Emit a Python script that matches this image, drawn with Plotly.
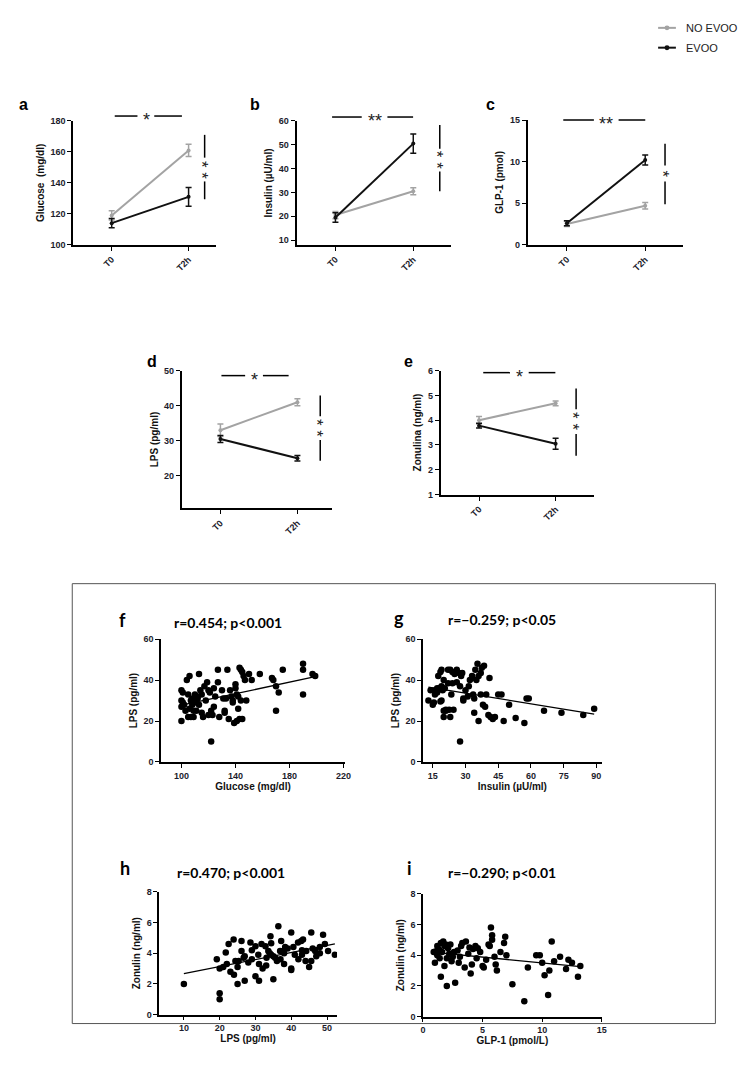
import plotly.graph_objects as go
import numpy as np

W, H = 747, 1080
def X(p): return p / W
def Y(p): return 1 - p / H

# ---------------- data ----------------
timepoints = ["T0", "T2h"]
glucose_no = [119, 161];   glucose_no_err = [3, 4]
glucose_evoo = [114, 131]; glucose_evoo_err = [3, 6]
insulin_no = [20.5, 30.5]; insulin_no_err = [1.5, 1.5]
insulin_evoo = [19.5, 50.5]; insulin_evoo_err = [2, 4]
glp1_no = [2.5, 4.7];      glp1_no_err = [0.3, 0.4]
glp1_evoo = [2.6, 10.2];   glp1_evoo_err = [0.3, 0.6]
lps_no = [33, 41];         lps_no_err = [1.8, 1.0]
lps_evoo = [30.5, 25];     lps_evoo_err = [1.0, 0.8]
zon_no = [4.0, 4.68];      zon_no_err = [0.15, 0.1]
zon_evoo = [3.78, 3.05];   zon_evoo_err = [0.1, 0.22]

f_glu = [100,100,100,100,101,101,102,103,104,105, 105,106,106,107,107,108,108,109,109,110,
         110,111,112,112,113,113,114,115,115,116, 117,118,119,120,120,121,122,122,123,124,
         124,125,127,127,128,130,131,132,132,133, 134,135,136,137,138,138,139,140,140,141,
         141,142,142,143,143,144,144,145,145,146, 147,148,150,152,158,167,168,170,170,172,
         175,190,190,190,197,199]
f_lps = [20,27,30,35,34,29,28,25,40,22, 33,42,26,30,22,28,31,25,22,33,
         29,25,32,31,28,43,35,24,33,22, 37,30,39,23,35,34,10,25,23,36,
         27,32,45,39,22,35,31,24,25,31, 45,21,35,32,30,29,19,38,36,33,
         20,26,32,46,21,45,30,44,21,42, 40,30,43,40,43,41,40,37,25,34,
         45,48,45,33,43,42]

g_ins = [13,15,16,17.5,18.5,19,18.5,19,19.5,20, 20.5,21,20,22,22,22.5,23,23.5,24,24.5,
         26,27,27.5,28,28.5,27.5,29,30,31.5,32, 33,33.5,34,34,34.5,35.5,36,36,37,37,
         37.5,38,38.5,39,39.5,40.5,41,41.5,42.5,43.5, 45,46.5,47.5,50,53,57,58,59,66,74,
         84,89, 16,17,18,20,21,23,25,14,15.5,17, 19,24,26,29,31,33,35]
g_lps = [30,28,33,42,44,45,29.5,37,35,40, 36,25.5,22,45,38.5,25.5,22,33,38.5,25.5,
         45,43.5,37,42,43.5,10,31,35,37,40, 42,33,31,24,45,48,42,20,43.5,33,
         46,28,47,27,33,23,41,22,21,22, 33,33,20,28,21.5,19,31,31,25,24,
         23,26, 35,34,36,25,25,45,43,35,29,36, 30,44,39,30,32,41,40]

h_lps = [19.2,21.7,22.5,23.9,24.4,25.3,26.1,26.1,26.7,28.6, 30,30.8,31.7,32.8,33.1,33.6,34.2,34.4,34.4,35.5,
         36.4,36.9,37.2,37.8,38.3,40,40.6,41.9,42.8,43.3, 44.2,45.6,45.6,46.7,48,48.9,49.4,50.3,
         10,20,20,20,21,23,25,27,28,30, 31,33,35,36,38,40,42,43,45,47,
         48,25,29,32,35,38,40,44,46,22, 24,27,29,31,34,37,39,41,43, 52.2]
h_zon = [3.6,4.05,4.6,4.9,3.5,3.5,4.8,4.15,3.7,4.7, 4.45,3.9,4.6,4.45,3.7,4.15,5.1,4.65,3.9,3.7,
         5.75,4.15,4.8,4.15,4.4,5.35,4.4,4.7,4.8,4.9, 4.15,5.35,3.5,4.15,4.4,5.2,4.6,4.15,
         2.0,1.0,1.4,3.0,3.1,2.8,2.0,2.2,3.4,2.5, 2.2,3.2,2.3,3.5,3.3,3.0,3.6,3.9,3.1,3.8,
         4.0,3.1,3.6,3.0,3.8,4.0,2.9,3.5,4.3,3.3, 2.6,3.8,4.2,3.3,4.0,3.6,4.3,3.9,4.2, 3.9]

i_glp = [1.1,1.5,1.7,1.9,2.1,2.3,3.3,3.6,4.4,4.6, 5.7,5.8,5.8,5.6,6.9,6.8,10.8,
         1.0,1.2,1.3,1.4,1.5,1.6,1.8,2.0,2.2, 2.4,2.5,2.7,2.9,3.0,3.2,3.5,3.8,4.0,4.2,
         4.5,4.8,5.0,5.3,5.5,6.0,6.2,6.5,7.0,7.5, 8.5,8.8,9.5,10.0,10.2,10.5,10.6,11.0,11.5,12.0,
         12.2,12.5,13.0,13.2,1.2,1.8,2.6,3.1,2.0,1.4, 0.9,3.9,4.1,5.1,6.1,9.8]
i_zon = [4.25,4.8,4.9,4.7,4.45,4.7,4.8,4.9,4.6,4.45, 5.8,5.3,5.0,4.6,5.2,4.8,4.9,
         3.5,4.0,4.4,3.8,2.6,4.2,3.3,2.0,4.1, 3.6,3.9,2.2,4.3,3.5,4.6,3.2,4.1,2.8,4.4,
         3.8,4.2,3.3,3.7,4.7,3.9,3.0,4.2,4.0,2.1, 1.0,3.2,4.0,3.5,2.7,1.4,3.0,3.6,3.9,3.1,
         3.7,3.5,2.6,3.3,4.6,4.6,4.2,3.9,3.8,4.3, 4.2,4.5,3.4,3.2,3.4,4.0]

corr_titles = ["r=0.454; p<0.001", "r=\u22120.259; p<0.05", "r=0.470; p<0.001", "r=\u22120.290; p<0.01"]

# ---------------- styling ----------------
GRAY = "#a3a3a3"
BLACK = "#111111"
TICKFONT = dict(family="Liberation Sans", size=9, color="#1c1c2c", weight="bold")
TITLEFONT = dict(family="Liberation Sans", size=10, color="#111111", weight="bold")

fig = go.Figure()
layout = {}
annotations = []
shapes = []

def axis_pair(k, xdom_px, ydom_px, xrange, yrange, lw):
    xd = [X(xdom_px[0]), X(xdom_px[1])]
    yd = [Y(ydom_px[1]), Y(ydom_px[0])]
    sfx = "" if k == 1 else str(k)
    base = dict(showline=True, linecolor="black", linewidth=lw, ticks="outside",
                ticklen=4, tickwidth=1.3, tickcolor="black", showgrid=False,
                zeroline=False, tickfont=TICKFONT, fixedrange=True)
    layout["xaxis" + sfx] = dict(base, domain=xd, range=xrange, anchor="y" + sfx)
    layout["yaxis" + sfx] = dict(base, domain=yd, range=yrange, anchor="x" + sfx)
    return sfx

top_panels = [
    ("a", "Glucose  (mg/dl)", glucose_no, glucose_no_err, glucose_evoo, glucose_evoo_err,
     (63, 207), (109, 234), [-0.5, 1.35], [100, 180], 20, (13, 92)),
    ("b", "Insulin (\u00b5U/ml)", insulin_no, insulin_no_err, insulin_evoo, insulin_evoo_err,
     (289, 445), (109, 234), [-0.5, 1.48], [8, 60], 10, (247, 92)),
    ("c", "GLP-1 (pmol)", glp1_no, glp1_no_err, glp1_evoo, glp1_evoo_err,
     (523, 680), (108, 234), [-0.5, 1.48], [0, 15], 5, (485, 92)),
    ("d", "LPS (pg/ml)", lps_no, lps_no_err, lps_evoo, lps_evoo_err,
     (173, 325), (361, 500), [-0.5, 1.45], [10.7, 50], 10, (143, 352)),
    ("e", "Zonulina (ng/ml)", zon_no, zon_no_err, zon_evoo, zon_evoo_err,
     (435, 590), (361, 486), [-0.5, 1.5], [1, 6], 1, (402, 352)),
]

for k, (letter, ytitle, no, no_e, ev, ev_e, xd, yd, xr, yr, dt, lpos) in enumerate(top_panels, start=1):
    sfx = axis_pair(k, xd, yd, xr, yr, 2)
    layout["xaxis" + sfx].update(tickvals=[0, 1], ticktext=timepoints, tickangle=-45)
    layout["yaxis" + sfx].update(dtick=dt, tick0=0,
                                 title=dict(text=ytitle, font=TITLEFONT, standoff=4))
    for vals, errs, col in ((no, no_e, GRAY), (ev, ev_e, BLACK)):
        fig.add_trace(go.Scatter(
            x=[0, 1], y=vals, mode="lines+markers", xaxis="x" + sfx, yaxis="y" + sfx,
            line=dict(color=col, width=2), marker=dict(color=col, size=4),
            error_y=dict(type="data", array=errs, color=col, thickness=1.5, width=3),
            showlegend=False))
    annotations.append(dict(text=letter, x=X(lpos[0]), y=Y(lpos[1]), xref="paper", yref="paper",
                            showarrow=False, xanchor="center", yanchor="middle",
                            font=dict(family="Liberation Sans", size=16, color="black", weight="bold")))

STARFONT = dict(family="Liberation Sans", size=18, color="#222")

# significance marks
def hsig(x1, x2, x3, x4, y, xs, stars):
    for a, b in ((x1, x2), (x3, x4)):
        shapes.append(dict(type="line", xref="paper", yref="paper", x0=X(a), x1=X(b),
                           y0=Y(y), y1=Y(y), line=dict(color="black", width=1.5)))
    annotations.append(dict(text=stars, x=X(xs), y=Y(y), xref="paper", yref="paper",
                            showarrow=False, xanchor="center", yanchor="middle", yshift=-4,
                            font=STARFONT))

def vsig(x, y1, y2, y3, y4, yc, stars):
    for a, b in ((y1, y2), (y3, y4)):
        shapes.append(dict(type="line", xref="paper", yref="paper", x0=X(x), x1=X(x),
                           y0=Y(a), y1=Y(b), line=dict(color="black", width=1.5)))
    annotations.append(dict(text=stars, x=X(x), y=Y(yc), xref="paper", yref="paper",
                            showarrow=False, xanchor="center", yanchor="middle",
                            textangle=90, xshift=-3,
                            font=dict(family="Liberation Sans", size=17, color="#222")))

hsig(105, 128, 145, 173, 104, 137, "*")
hsig(325, 355, 381, 407, 105, 368, "**")
hsig(559, 590, 615, 642, 108, 602, "**")
hsig(213, 237, 255, 281, 366, 246, "*")
hsig(478, 505, 524, 551, 363, 515, "*")
vsig(196, 123, 146, 170, 188, 158, "* *")
vsig(434, 113, 137, 160, 180, 148, "* *")
vsig(662, 132, 154, 170, 193, 162, "*")
vsig(313, 386, 407, 431, 452, 419, "* *")
vsig(572, 379, 400, 425, 447, 412, "* *")

# legend (manual)
for yy, col, name in ((15, GRAY, "NO EVOO"), (35, BLACK, "EVOO")):
    shapes.append(dict(type="line", xref="paper", yref="paper", x0=X(655), x1=X(673),
                       y0=Y(yy), y1=Y(yy), line=dict(color=col, width=2)))
    shapes.append(dict(type="circle", xref="paper", yref="paper", x0=X(661.5), x1=X(666.5),
                       y0=Y(yy + 2.5), y1=Y(yy - 2.5), fillcolor=col, line=dict(color=col, width=0)))
    annotations.append(dict(text=name, x=X(681), y=Y(yy), xref="paper", yref="paper",
                            showarrow=False, xanchor="left", yanchor="middle",
                            font=dict(family="Liberation Sans", size=11, color="#222")))

# bottom box
shapes.append(dict(type="rect", xref="paper", yref="paper", x0=X(62), x1=X(713),
                   y0=Y(1020), y1=Y(576), line=dict(color="#555", width=1)))

scatter_panels = [
    ("f", f_glu, f_lps, "Glucose (mg/dl)", "LPS (pg/ml)", (152, 338), (632, 756),
     [85, 221], [0, 60], dict(tick0=100, dtick=40), 20, (113, 613), (220, 615)),
    ("g", g_ins, g_lps, "Insulin (\u00b5U/ml)", "LPS (pg/ml)", (417, 598), (632, 756),
     [10.5, 92.5], [0, 60], dict(tick0=15, dtick=15), 20, (393, 611), (497, 612)),
    ("h", h_lps, h_zon, "LPS (pg/ml)", "Zonulin (ng/ml)", (150, 330), (887, 1011),
     [3.1, 52.8], [0, 8], dict(tick0=10, dtick=10), 2, (115, 863), (223, 868)),
    ("i", i_glp, i_zon, "GLP-1 (pmol/L)", "Zonulin (ng/ml)", (417, 598), (889, 1013),
     [0, 15], [0, 8], dict(tick0=0, dtick=5), 2, (403, 863), (497, 868)),
]

for j, (letter, xs, ys, xt, yt, xd, yd, xr, yr, xtick, ydt, lpos, tpos) in enumerate(scatter_panels, start=6):
    sfx = axis_pair(j, xd, yd, xr, yr, 1.5)
    layout["xaxis" + sfx].update(title=dict(text=xt, font=TITLEFONT, standoff=2), **xtick)
    layout["yaxis" + sfx].update(tick0=0, dtick=ydt, title=dict(text=yt, font=TITLEFONT, standoff=4))
    fig.add_trace(go.Scatter(x=xs, y=ys, mode="markers", xaxis="x" + sfx, yaxis="y" + sfx,
                             marker=dict(color="black", size=6.5), showlegend=False))
    slope, icpt = np.polyfit(xs, ys, 1)
    lx = np.array([min(xs), max(xs)])
    fig.add_trace(go.Scatter(x=lx, y=slope * lx + icpt, mode="lines", xaxis="x" + sfx, yaxis="y" + sfx,
                             line=dict(color="black", width=1.3), showlegend=False))
    annotations.append(dict(text=letter, x=X(lpos[0]), y=Y(lpos[1]), xref="paper", yref="paper",
                            showarrow=False, xanchor="center", yanchor="middle",
                            font=dict(family="Lato", size=18, color="black", weight="bold")))
    annotations.append(dict(text=corr_titles[j - 6], x=X(tpos[0]), y=Y(tpos[1]), xref="paper", yref="paper",
                            showarrow=False, xanchor="center", yanchor="middle",
                            font=dict(family="Lato", size=14, color="black", weight="bold")))

fig.update_layout(width=W, height=H, margin=dict(l=0, r=0, t=0, b=0),
                  paper_bgcolor="white", plot_bgcolor="white",
                  annotations=annotations, shapes=shapes, showlegend=False, **layout)
fig.write_html("out.html")
